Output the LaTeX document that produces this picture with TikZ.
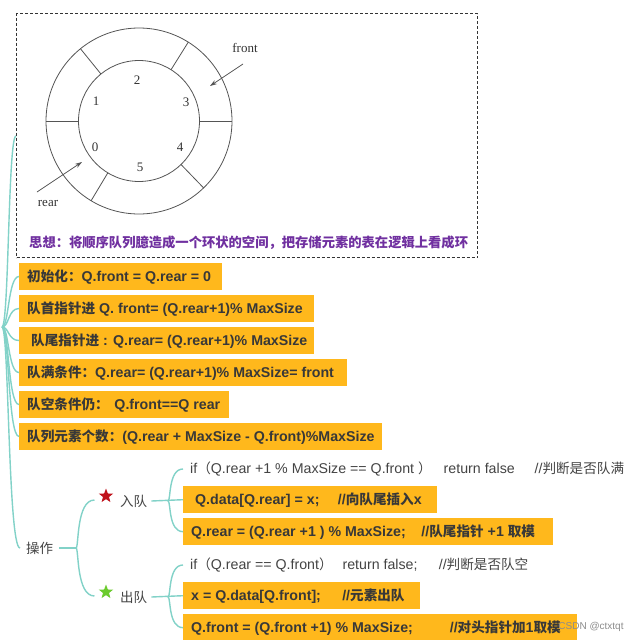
\documentclass[tikz,border=0pt]{standalone}
\usepackage{fontspec}
\setmainfont{Liberation Sans}
\newfontfamily\cjk{Noto Sans CJK SC}
\newfontfamily\serifrm{Liberation Serif}
\usetikzlibrary{shapes.geometric,arrows.meta}
\definecolor{boxorange}{HTML}{FFB81C}
\definecolor{boxtext}{HTML}{383838}
\definecolor{plaintext}{HTML}{444444}
\definecolor{teal}{HTML}{82D2C8}
\definecolor{purp}{HTML}{7030A0}
\definecolor{ringgray}{HTML}{555555}
\definecolor{starred}{HTML}{C0121C}
\definecolor{stargreen}{HTML}{6CCB2E}
\newcommand{\bt}[2]{\makebox[#1][l]{#2}}
\newcommand{\zh}[1]{{\cjk\fontsize{13.6}{16}\selectfont #1}}
\begin{document}
\begin{tikzpicture}[x=1pt,y=-1pt,
  ring/.style={draw=ringgray,line width=0.8pt},
  cnum/.style={font=\serifrm\fontsize{13}{15}\selectfont,text=black!80,inner sep=0pt},
  obox/.style={fill=boxorange,anchor=north west,minimum height=27pt,inner xsep=8pt,inner ysep=0pt,
    font=\fontsize{14.2}{16}\selectfont\bfseries,text=boxtext},
  ptext/.style={anchor=west,inner xsep=7pt,inner ysep=0pt,font=\fontsize{14.2}{16}\selectfont,text=plaintext},
  link/.style={draw=teal,line width=1.4pt},
  starnode/.style={star,star points=5,star point ratio=2.4,minimum size=15pt,inner sep=0pt},
  arr/.style={draw=ringgray,line width=0.8pt,-{Stealth[length=7pt,width=4.5pt]}}]
\fill[white] (0,0) rectangle (640,640);
\useasboundingbox (0,0) rectangle (640,640);

% --- idea box
\node[draw=black!80,dashed,line width=1.1pt,dash pattern=on 3pt off 2pt,anchor=north west,
  minimum width=461pt,minimum height=244pt,inner sep=0pt] (idea) at (16,13) {};
\node[anchor=west,inner sep=0pt,font=\cjk\fontsize{13.3}{16}\selectfont\bfseries,text=purp] (ideatext) at (29,243)
  {思想：将顺序队列臆造成一个环状的空间，把存储元素的表在逻辑上看成环};

% --- ring
\coordinate (c) at (139,121);
\draw[ring] (c) circle[radius=93];
\draw[ring] (c) circle[radius=60.5];
\foreach \a in {0,-58,-129,180,-239,-314}
  \draw[ring] ([shift={(\a:60.5)}]c) -- ([shift={(\a:93)}]c);
\node[cnum] (n2) at (137,80) {2};
\node[cnum] (n1) at (96,101) {1};
\node[cnum] (n3) at (186,102) {3};
\node[cnum] (n0) at (95,147) {0};
\node[cnum] (n4) at (180,147) {4};
\node[cnum] (n5) at (140,167) {5};
\node[cnum] (front) at (245,48) {front};
\node[cnum] (rear) at (48,203) {rear};
\coordinate (fa) at (243,64); \coordinate (fb) at (210,86);
\coordinate (ra) at (37,192); \coordinate (rb) at (82,162);
\draw[arr] (fa) -- (fb);
\draw[arr] (ra) -- (rb);

% --- property boxes
\node[obox] (b1) at (19,263) {\bt{187pt}{\zh{初始化：}Q.front = Q.rear = 0}};
\node[obox] (b2) at (19,295) {\bt{279pt}{\zh{队首指针进} Q. front= (Q.rear+1)\% MaxSize}};
\node[obox] (b3) at (19,327) {\bt{279pt}{\hspace{4pt}\zh{队尾指针进} : Q.rear= (Q.rear+1)\% MaxSize}};
\node[obox] (b4) at (19,359) {\bt{312pt}{\zh{队满条件：}Q.rear= (Q.rear+1)\% MaxSize= front}};
\node[obox] (b5) at (19,391) {\bt{194pt}{\zh{队空条件仍：}\hspace{0.4em}Q.front==Q rear}};
\node[obox] (b6) at (19,423) {\bt{347pt}{\zh{队列元素个数：}(Q.rear + MaxSize - Q.front)\%MaxSize}};

% --- operations
\node[ptext,inner xsep=6pt,font=\cjk\fontsize{13.5}{16}\selectfont] (op) at (20,548) {操作};
\node[starnode,fill=starred] (enqstar) at (106,496) {};
\node[ptext,inner xsep=0pt,font=\cjk\fontsize{13.5}{16}\selectfont] (enq) at (120,501) {入队};
\node[starnode,fill=stargreen] (deqstar) at (106,592) {};
\node[ptext,inner xsep=0pt,font=\cjk\fontsize{13.5}{16}\selectfont] (deq) at (120,597) {出队};

\node[ptext] (e1) at (183,469) {if\zh{（}Q.rear +1 \% MaxSize == Q.front \zh{）}\hspace{0.85em}return false\hspace{1.4em}//\zh{判断是否队满}};
\node[obox] (e2) at (183,486) {\bt{238pt}{\hspace{4pt}Q.data[Q.rear] = x;\hspace{1.3em}//\zh{向队尾插入}x}};
\node[obox] (e3) at (183,518) {\bt{354pt}{Q.rear = (Q.rear +1 ) \% MaxSize;\hspace{1.1em}//\zh{队尾指针} +1 \zh{取模}}};

\node[ptext] (d1) at (183,565) {if\zh{（}Q.rear == Q.front\zh{）}\hspace{0.7em}return false;\hspace{1.5em}//\zh{判断是否队空}};
\node[obox] (d2) at (183,582) {\bt{221pt}{x = Q.data[Q.front];\hspace{1.5em}//\zh{元素出队}}};
\node[obox] (d3) at (183,614) {\bt{378pt}{Q.front = (Q.front +1) \% MaxSize;\hspace{2.6em}//\zh{对头指针加}1\zh{取模}}};

\node[font=\fontsize{10}{12}\selectfont,text=black!45,inner sep=0pt] (wm) at (591,627) {CSDN @ctxtqt};

% --- root connectors
\coordinate (R) at (2,327);
\foreach \t/\y in {idea/136,b1/276.5,b2/308.5,b3/340.5,b4/372.5,b5/404.5,b6/436.5,op/548}
  \draw[link] (R) .. controls (9,327) and (8,\y) .. (\t.west |- 0,\y);

% --- operation connectors
\coordinate (J0) at (76,548);
\draw[link] (op.east) -- (J0);
\draw[link] (J0) .. controls (79,548) and (76,500) .. ([xshift=-7pt]enqstar.west |- 0,500);
\draw[link] (J0) .. controls (79,548) and (76,596) .. ([xshift=-7pt]deqstar.west |- 0,596);

\coordinate (J1) at (168,501);
\draw[link] ([xshift=4pt]enq.east) -- (e2.west);
\draw[link] (J1) .. controls (171,501) and (168,469) .. (e1.west);
\draw[link] (J1) .. controls (171,501) and (168,531.5) .. (e3.west);

\coordinate (J2) at (168,597);
\draw[link] ([xshift=4pt]deq.east) -- (d2.west);
\draw[link] (J2) .. controls (171,597) and (168,565) .. (d1.west);
\draw[link] (J2) .. controls (171,597) and (168,627.5) .. (d3.west);
\end{tikzpicture}
\end{document}
